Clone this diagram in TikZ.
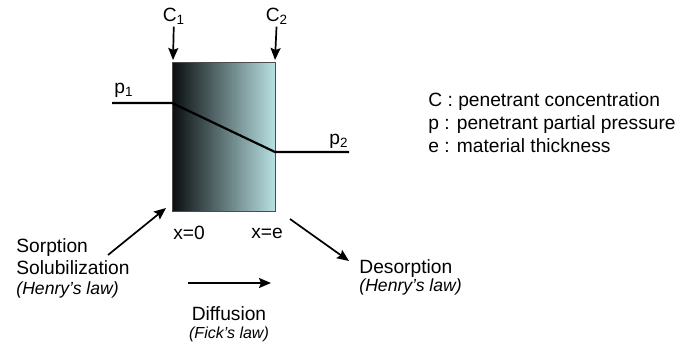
\documentclass[tikz,border=0pt]{standalone}
\usepackage{fontspec}
\setmainfont{Liberation Sans}
\usetikzlibrary{arrows.meta}
\definecolor{filmlight}{RGB}{184,224,226}
\definecolor{filmdark}{RGB}{10,14,16}
\newcommand\lawtext[2][8.8]{{\fontsize{#1}{10}\selectfont\itshape #2}}
\tikzset{
  lbl/.style={inner sep=1pt,font=\fontsize{9.6}{11}\selectfont},
  flux/.style={-{Stealth[length=6pt,width=5pt,inset=1pt]},line width=0.85pt},
  prof/.style={line width=1.1pt}
}
\begin{document}
\begin{tikzpicture}[x=0.5pt,y=-0.5pt]
\useasboundingbox (0,0) rectangle (696,352);
% membrane
\shade[left color=filmdark,right color=filmlight] (172,63) rectangle (275,212);
\draw[line width=0.5pt,black!70] (172,63) rectangle (275,212);
% concentrations
\node[lbl] (c1) at (174,16) {C\textsubscript{1}};
\node[lbl] (c2) at (277,16) {C\textsubscript{2}};
\coordinate (c1in) at (173,60); \coordinate (c2in) at (275,60);
\draw[flux] (c1) -- (c1in);
\draw[flux] (c2) -- (c2in);
% pressure profile
\coordinate (p1a) at (112,103); \coordinate (p1b) at (172,103);
\coordinate (p2a) at (275,152); \coordinate (p2b) at (349,152);
\draw[prof] (p1a) -- (p1b) -- (p2a) -- (p2b);
\node[lbl] (p1) at (124,90) {p\textsubscript{1}};
\node[lbl] (p2) at (339,141) {p\textsubscript{2}};
% positions
\node[lbl] (x0) at (189,233) {x=0};
\node[lbl] (xe) at (267,233) {x=e};
% sorption
\node[lbl,align=left,anchor=north west] (sorp) at (14,236) {Sorption\\Solubilization\\[-1pt]\lawtext{(Henry's law)}};
\coordinate (sorpa) at (108,255); \coordinate (sorpb) at (166,208);
\draw[flux] (sorpa) -- (sorpb);
% desorption
\node[lbl,align=left,anchor=north west] (desorp) at (357,257) {Desorption\\[-2pt]\lawtext{(Henry's law)}};
\coordinate (desa) at (290,219); \coordinate (desb) at (349,261);
\draw[flux] (desa) -- (desb);
% diffusion
\coordinate (difa) at (188,283); \coordinate (difb) at (271,283);
\draw[flux] (difa) -- (difb);
\node[lbl,align=center] (dif) at (229,324) {Diffusion\\[-2pt]\lawtext[8]{(Fick's law)}};
% legend
\node[lbl,align=left,anchor=north west] (legend) at (426,90) {C : penetrant concentration\\[0.5pt]p : penetrant partial pressure\\[0.5pt]e : material thickness};
\end{tikzpicture}
\end{document}
